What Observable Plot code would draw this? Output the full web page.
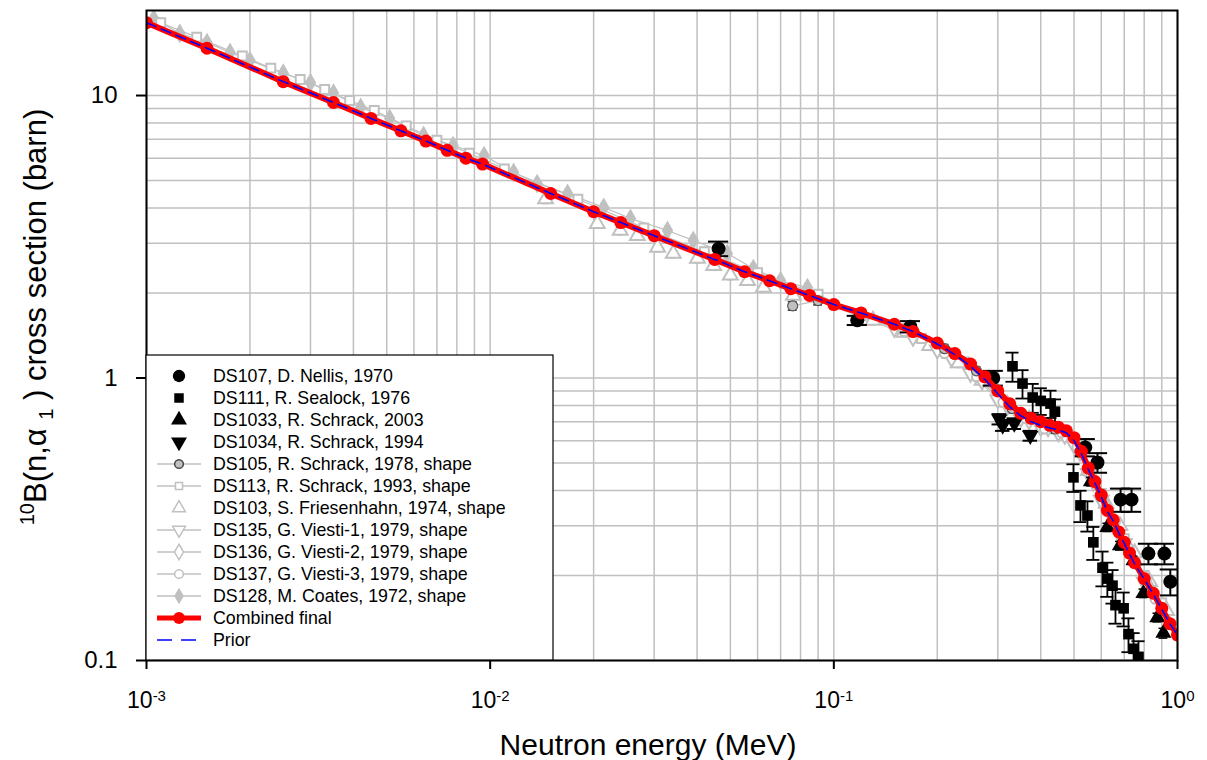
<!DOCTYPE html>
<html><head><meta charset="utf-8">
<script src="https://cdn.jsdelivr.net/npm/d3@7"></script>
<script src="https://cdn.jsdelivr.net/npm/@observablehq/plot@0.6"></script>
<style>
body{margin:0;background:#fff;}
svg{font-family:"Liberation Sans",Arial,sans-serif;}
</style>
</head><body><div id="chart"></div>
<script>
// ---------------- DATA ----------------
const xTickVals = [0.001, 0.01, 0.1, 1];
const xTickExp = ["-3", "-2", "-1", "0"];
const yTickVals = [0.1, 1, 10];
const yTickLabels = ["0.1", "1", "10"];
const xGrid = [0.001,0.002,0.003,0.004,0.005,0.006,0.007,0.008,0.009,
               0.01,0.02,0.03,0.04,0.05,0.06,0.07,0.08,0.09,
               0.1,0.2,0.3,0.4,0.5,0.6,0.7,0.8,0.9,1];
const yGrid = [0.1,0.2,0.3,0.4,0.5,0.6,0.7,0.8,0.9,1,2,3,4,5,6,7,8,9,10];

// Combined final
const combinedE = [0.001,0.0015,0.0025,0.0035,0.0045,0.0055,0.0065,0.0075,0.0085,0.0095,
  0.015,0.02,0.024,0.03,0.045,0.055,0.065,0.075,0.085,0.1,0.12,0.15,0.17,0.2,0.225,0.25,0.275,
  0.3,0.325,0.35,0.375,0.4,0.425,0.45,0.475,0.5,0.525,0.55,0.575,0.6,0.625,0.65,0.675,0.7,0.725,
  0.75,0.8,0.85,0.9,0.95,1.0];
const combinedV = [18.1,14.7,11.2,9.45,8.3,7.5,6.9,6.4,6.0,5.72,
  4.5,3.88,3.55,3.19,2.63,2.38,2.21,2.07,1.96,1.82,1.70,1.55,1.46,1.33,1.22,1.12,1.01,
  0.90,0.81,0.75,0.72,0.70,0.68,0.67,0.65,0.615,0.55,0.48,0.43,0.385,0.34,0.315,0.285,0.262,0.24,
  0.222,0.195,0.173,0.153,0.135,0.123];
// Prior
const priorE = combinedE;
const priorV = [18.1,14.7,11.2,9.45,8.3,7.5,6.9,6.4,6.0,5.72,
  4.5,3.88,3.55,3.19,2.63,2.38,2.21,2.07,1.96,1.82,1.70,1.55,1.46,1.32,1.21,1.10,0.99,
  0.88,0.79,0.735,0.70,0.68,0.665,0.655,0.64,0.60,0.54,0.475,0.425,0.38,0.337,0.312,0.283,0.26,0.238,
  0.22,0.194,0.172,0.152,0.135,0.123];

// DS107 Nellis (black circles)
const ds107E = [0.0462,0.117,0.167,0.291,0.539,0.585,0.683,0.735,0.823,0.916,0.953];
const ds107V = [2.87,1.60,1.52,1.00,0.568,0.502,0.371,0.371,0.239,0.239,0.190];
const ds107Err = [0.17,0.06,0.07,0.06,0.04,0.04,0.035,0.035,0.02,0.02,0.02];
// DS111 Sealock (black squares)
const ds111E = [0.331,0.354,0.379,0.40,0.427,0.44,0.498,0.522,0.547,0.569,0.605,0.625,0.647,0.66,0.697,0.72,0.745,0.77];
const ds111V = [1.10,0.956,0.853,0.83,0.812,0.76,0.445,0.354,0.326,0.262,0.213,0.195,0.184,0.157,0.153,0.124,0.110,0.103];
const ds111Err = [0.13,0.11,0.10,0.09,0.09,0.08,0.05,0.045,0.04,0.035,0.03,0.027,0.025,0.022,0.021,0.017,0.015,0.014];
// DS1033 Schrack 2003 (black up triangles)
const ds1033E = [0.56,0.625,0.68,0.745,0.796,0.874,0.91];
const ds1033V = [0.43,0.296,0.255,0.226,0.173,0.142,0.125];
const ds1033Err = [0.015,0.01,0.009,0.008,0.006,0.005,0.005];
// DS1034 Schrack 1994 (black down triangles)
const ds1034E = [0.303,0.31,0.335,0.373];
const ds1034V = [0.715,0.68,0.69,0.625];
const ds1034Err = [0.03,0.03,0.03,0.025];

// shape data (gray)
const ds105E = [0.0759,0.09,0.21,0.26,0.33,0.44,0.52,0.6];
const ds105V = [1.80,1.88,1.27,1.06,0.78,0.66,0.55,0.38];
const ds113E = [0.0011,0.0014,0.0019,0.0023,0.0028,0.0033,0.0039,0.0046,0.0057,0.0070,0.0087,0.011,0.018,0.028,0.042,0.06,0.09,0.12,0.18,0.24,0.3,0.4,0.5,0.6,0.7,0.8,0.9,1.0];
const ds113V = [18.1,16.1,13.8,12.5,11.4,10.5,9.6,8.85,7.8,6.95,6.25,5.5,4.3,3.4,2.8,2.36,1.98,1.66,1.38,1.14,0.88,0.69,0.61,0.39,0.27,0.20,0.16,0.13];
const ds103E = [0.0145,0.0205,0.0239,0.0268,0.0307,0.0341,0.0401,0.0447,0.05,0.0561,0.0624,0.0763,0.13,0.16,0.19,0.23,0.27,0.55,0.62,0.68,0.75,0.83,0.93];
const ds103V = [4.3,3.52,3.33,3.19,2.90,2.76,2.65,2.50,2.31,2.21,2.09,1.96,1.6,1.45,1.3,1.13,0.98,0.47,0.36,0.3,0.24,0.19,0.15];
const ds135E = [0.15,0.2,0.25,0.3,0.35,0.4,0.45,0.5,0.55,0.6,0.7,0.8];
const ds135V = [1.50,1.26,1.04,0.84,0.72,0.67,0.64,0.58,0.46,0.37,0.26,0.19];
const ds136E = [0.17,0.22,0.27,0.32,0.37,0.42,0.47,0.52,0.57,0.62,0.72,0.82];
const ds136V = [1.40,1.18,0.98,0.80,0.71,0.67,0.63,0.55,0.43,0.35,0.25,0.185];
const ds137E = [0.16,0.21,0.26,0.31,0.36,0.41,0.46,0.51,0.56,0.66,0.76,0.86,0.96];
const ds137V = [1.46,1.22,1.01,0.82,0.72,0.66,0.64,0.57,0.45,0.31,0.22,0.165,0.135];
const ds128E = [0.00105,0.00125,0.0015,0.00175,0.0020,0.0025,0.0030,0.0035,0.0042,0.0051,0.0064,0.0078,0.0096,0.0117,0.0137,0.0168,0.0214,0.0256,0.0328,0.039,0.049,0.0583,0.070,0.0838];
const ds128V = [18.7,16.6,15.4,14.2,13.3,12.0,11.1,10.2,9.08,8.3,7.22,6.65,6.13,5.34,4.88,4.5,4.02,3.67,3.33,3.07,2.76,2.44,2.21,2.09];
const grayRelErr = 0.035;

const legendLabels = [
  "DS107, D. Nellis, 1970","DS111, R. Sealock, 1976","DS1033, R. Schrack, 2003","DS1034, R. Schrack, 1994",
  "DS105, R. Schrack, 1978, shape","DS113, R. Schrack, 1993, shape","DS103, S. Friesenhahn, 1974, shape",
  "DS135, G. Viesti-1, 1979, shape","DS136, G. Viesti-2, 1979, shape","DS137, G. Viesti-3, 1979, shape",
  "DS128, M. Coates, 1972, shape","Combined final","Prior"];

// ---------------- BUILD ----------------
const rows = (E, V, Err) => E.map((e,i)=>({E:e, v:V[i], err: Err ? Err[i] : V[i]*grayRelErr}));
const downTri = {draw(ctx, size){ const s3=Math.sqrt(3); const y=-Math.sqrt(size/(s3*3));
  ctx.moveTo(0,-y*2); ctx.lineTo(-s3*y, y); ctx.lineTo(s3*y, y); ctx.closePath(); }};

const GRAY = "#c0c0c0";
function errMarks(data, color, cap, sw){
  return [
    Plot.ruleX(data,{x:"E", y1:d=>d.v-d.err, y2:d=>d.v+d.err, stroke:color, strokeWidth:sw, clip:true}),
    Plot.ruleY(data,{y:d=>d.v+d.err, x1:d=>d.E/cap, x2:d=>d.E*cap, stroke:color, strokeWidth:sw, clip:true}),
    Plot.ruleY(data,{y:d=>d.v-d.err, x1:d=>d.E/cap, x2:d=>d.E*cap, stroke:color, strokeWidth:sw, clip:true})
  ];
}

const g105 = rows(ds105E, ds105V), g113 = rows(ds113E, ds113V), g103 = rows(ds103E, ds103V),
      g135 = rows(ds135E, ds135V), g136 = rows(ds136E, ds136V), g137 = rows(ds137E, ds137V),
      g128 = rows(ds128E, ds128V);
const b107 = rows(ds107E, ds107V, ds107Err), b111 = rows(ds111E, ds111V, ds111Err),
      b1033 = rows(ds1033E, ds1033V, ds1033Err), b1034 = rows(ds1034E, ds1034V, ds1034Err);
const comb = rows(combinedE, combinedV, combinedV.map(()=>0));
const prior = rows(priorE, priorV, priorV.map(()=>0));

const marks = [
  Plot.gridX({ticks:xGrid, stroke:GRAY, strokeOpacity:1, strokeWidth:1.5}),
  Plot.gridY({ticks:yGrid, stroke:GRAY, strokeOpacity:1, strokeWidth:1.5}),
];
for (const g of [g128,g113,g103,g135,g136,g137]) marks.push(...errMarks(g, GRAY, 1.018, 1.8));
marks.push(...errMarks(g105, "#333", 1.03, 1.5));
for (const g of [g128,g113,g135,g136,g137,g105]) marks.push(Plot.line(g,{x:"E",y:"v",stroke:GRAY,strokeWidth:1.2,clip:true}));
marks.push(
  Plot.dot(g128,{x:"E",y:"v",symbol:"diamond",r:6,fill:GRAY,clip:true}),
  Plot.dot(g113,{x:"E",y:"v",symbol:"square",r:5,fill:"white",stroke:GRAY,strokeWidth:2,clip:true}),
  Plot.dot(g103,{x:"E",y:"v",symbol:"triangle",r:5.5,fill:"white",stroke:GRAY,strokeWidth:2,clip:true}),
  Plot.dot(g135,{x:"E",y:"v",symbol:downTri,r:5.5,fill:"white",stroke:GRAY,strokeWidth:2,clip:true}),
  Plot.dot(g136,{x:"E",y:"v",symbol:"diamond",r:5.5,fill:"white",stroke:GRAY,strokeWidth:2,clip:true}),
  Plot.dot(g137,{x:"E",y:"v",symbol:"circle",r:4.5,fill:"white",stroke:GRAY,strokeWidth:2,clip:true}),
  Plot.dot(g105,{x:"E",y:"v",symbol:"circle",r:5,fill:GRAY,stroke:"#555",strokeWidth:1.2,clip:true})
);
marks.push(...errMarks(b107, "black", 1.07, 2));
marks.push(...errMarks(b111, "black", 1.045, 1.8));
marks.push(...errMarks(b1033, "black", 1.03, 1.5));
marks.push(...errMarks(b1034, "black", 1.05, 2));
marks.push(
  Plot.dot(b107,{x:"E",y:"v",symbol:"circle",r:7,fill:"black",clip:true}),
  Plot.dot(b111,{x:"E",y:"v",symbol:"square",r:6,fill:"black",clip:true}),
  Plot.dot(b1033,{x:"E",y:"v",symbol:"triangle",r:6,fill:"black",clip:true}),
  Plot.dot(b1034,{x:"E",y:"v",symbol:downTri,r:6,fill:"black",clip:true}),
  Plot.line(comb,{x:"E",y:"v",stroke:"#ff0000",strokeWidth:6,clip:true}),
  Plot.dot(comb,{x:"E",y:"v",r:6.5,fill:"#ff0000",clip:true}),
  Plot.line(prior,{x:"E",y:"v",stroke:"#0000ff",strokeWidth:1.6,strokeDasharray:"10,6",clip:true}),
  Plot.frame({stroke:"black", strokeWidth:2}),
  Plot.axisX({ticks:xTickVals, tickFormat:d=>xTickExp[xTickVals.indexOf(d)], tickSize:9, tickPadding:22, fontSize:23, strokeWidth:2, label:null}),
  Plot.axisY({ticks:yTickVals, tickFormat:d=>yTickLabels[yTickVals.indexOf(d)], tickSize:10, tickPadding:19, fontSize:24, strokeWidth:2, label:null})
);

const chart = Plot.plot({
  width:1207, height:760,
  marginLeft:146, marginRight:30, marginTop:10, marginBottom:100,
  style:{fontFamily:"'Liberation Sans', Arial, sans-serif", background:"white"},
  x:{type:"log", domain:[0.001,1]},
  y:{type:"log", domain:[0.1,20]},
  marks
});
document.getElementById("chart").appendChild(chart);

const svg = d3.select(chart);
// superscript x tick labels
svg.selectAll('g[aria-label="x-axis tick label"] text').each(function(){
  const t = d3.select(this); const e = t.text(); t.text("");
  t.append("tspan").text("10");
  t.append("tspan").attr("dy","-0.45em").attr("font-size","15px").text(e);
});
// axis titles
svg.append("text").attr("x",648).attr("y",755).attr("text-anchor","middle")
  .attr("font-size",30).attr("fill","black").text("Neutron energy (MeV)");
const yt = svg.append("text").attr("transform","translate(46,317) rotate(-90)")
  .attr("text-anchor","middle").attr("font-size",31).attr("fill","black");
yt.append("tspan").attr("font-size",20).attr("dy",-12).text("10");
yt.append("tspan").attr("dy",12).text("B(n,α ");
yt.append("tspan").attr("font-size",20).attr("dy",7).text("1");
yt.append("tspan").attr("dy",-7).text(" ) cross section (barn)");

// legend
const lg = svg.append("g").attr("text-anchor","start");
lg.append("rect").attr("x",146).attr("y",355).attr("width",407).attr("height",305)
  .attr("fill","white").attr("stroke","black").attr("stroke-width",1.2);
const sym = (type, size) => d3.symbol().type(type).size(size)();
const downPath = d3.symbol().type(downTri).size(110)();
const legendStyles = [
  {line:null, path:sym(d3.symbolCircle,120), fill:"black"},
  {line:null, path:sym(d3.symbolSquare,90), fill:"black"},
  {line:null, path:sym(d3.symbolTriangle,110), fill:"black"},
  {line:null, path:downPath, fill:"black"},
  {line:GRAY, path:sym(d3.symbolCircle,60), fill:GRAY, stroke:"#444"},
  {line:GRAY, path:sym(d3.symbolSquare,50), fill:"white", stroke:GRAY},
  {line:null, path:sym(d3.symbolTriangle,70), fill:"white", stroke:GRAY},
  {line:GRAY, path:d3.symbol().type(downTri).size(70)(), fill:"white", stroke:GRAY},
  {line:GRAY, path:sym(d3.symbolDiamond,70), fill:"white", stroke:GRAY},
  {line:GRAY, path:sym(d3.symbolCircle,60), fill:"white", stroke:GRAY},
  {line:GRAY, path:sym(d3.symbolDiamond,80), fill:GRAY},
  {line:"#ff0000", lw:5, path:sym(d3.symbolCircle,110), fill:"#ff0000"},
  {line:"#0000ff", lw:1.5, dash:"15,9", path:null}
];
legendLabels.forEach((lab,i)=>{
  const cy = 376 + i*22; const st = legendStyles[i];
  if (st.line) lg.append("line").attr("x1",157).attr("x2",201).attr("y1",cy).attr("y2",cy)
     .attr("stroke",st.line).attr("stroke-width",st.lw||1.5).attr("stroke-dasharray",st.dash||null);
  if (st.path) lg.append("path").attr("d",st.path).attr("transform",`translate(179,${cy})`)
     .attr("fill",st.fill).attr("stroke",st.stroke||"none").attr("stroke-width",1.5);
  lg.append("text").attr("x",213).attr("y",cy+6).attr("font-size",17.8).attr("fill","black")
     .attr("text-anchor","start").text(lab);
});
</script>
</body></html>
